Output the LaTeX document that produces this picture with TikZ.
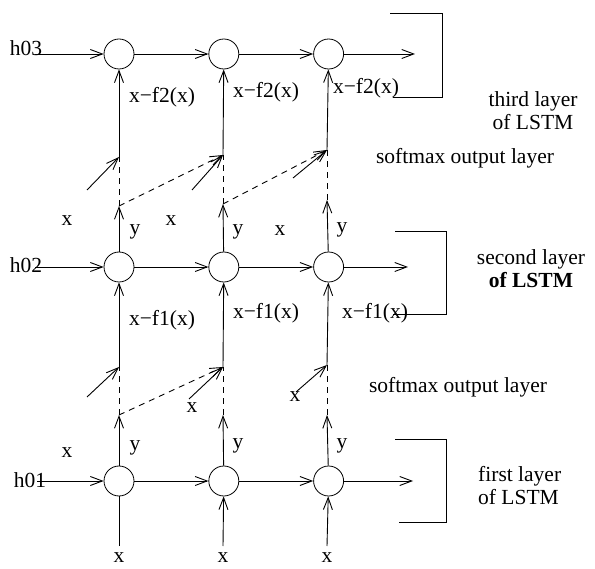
\documentclass[tikz,border=0pt]{standalone}
\usepackage{fontspec}
\setmainfont{Liberation Serif}
\usetikzlibrary{arrows.meta, positioning}

\begin{document}
\begin{tikzpicture}[
    x=1pt, y=-1pt,
    node distance=74pt,
    cell/.style={circle, draw, line width=0.8pt,
                 minimum size=30pt, inner sep=0pt},
    lbl/.style={font=\fontsize{21.5}{23}\selectfont, inner sep=0pt},
    ln/.style={line width=0.9pt},
    arr/.style={ln, -{Straight Barb[length=12pt, width=9pt]}},
    dsh/.style={ln, dash pattern=on 6pt off 5pt},
    darr/.style={dsh, -{Straight Barb[length=12pt, width=9pt]}}
  ]
  \useasboundingbox (0,0) rectangle (595,569);

  % cells of the three layers
  \node[cell] (c11) at (119,481) {};
  \node[cell, right=of c11] (c12) {};
  \node[cell, right=of c12] (c13) {};
  \node[cell] (c21) at (119,267) {};
  \node[cell, right=of c21] (c22) {};
  \node[cell, right=of c22] (c23) {};
  \node[cell] (c31) at (119,54) {};
  \node[cell, right=of c31] (c32) {};
  \node[cell, right=of c32] (c33) {};

  % hidden state inputs
  \node[lbl] (h1) at (30,480) {h01};
  \node[lbl] (h2) at (26,265) {h02};
  \node[lbl] (h3) at (26,48) {h03};
  \coordinate (h1s) at (37,481);
  \coordinate (h2s) at (35,267);
  \coordinate (h3s) at (35,54);
  \coordinate (o1) at (413,481);
  \coordinate (o2) at (408,267);
  \coordinate (o3) at (415,54);

  \draw[arr] (h1s) -- (c11);
  \draw[arr] (c11) -- (c12);
  \draw[arr] (c12) -- (c13);
  \draw[arr] (c13) -- (o1);
  \draw[arr] (h2s) -- (c21);
  \draw[arr] (c21) -- (c22);
  \draw[arr] (c22) -- (c23);
  \draw[arr] (c23) -- (o2);
  \draw[arr] (h3s) -- (c31);
  \draw[arr] (c31) -- (c32);
  \draw[arr] (c32) -- (c33);
  \draw[arr] (c33) -- (o3);

  % inputs at the bottom
  \node[lbl] (x1) at (119,558) {x};
  \node[lbl] (x2) at (223,558) {x};
  \node[lbl] (x3) at (327,558) {x};
  \coordinate (i1) at (119,546);
  \coordinate (i2) at (223,546);
  \coordinate (i3) at (327,546);
  \draw[ln]  (i1) -- (c11);
  \draw[arr] (i2) -- (c12);
  \draw[arr] (i3) -- (c13);

  % first to second layer
  \coordinate (t11) at (119,415);
  \coordinate (t12) at (223,415);
  \coordinate (t13) at (327,415);
  \coordinate (j21) at (119,367);
  \coordinate (j22) at (223,367);
  \coordinate (j23) at (327,365);
  \coordinate (a21) at (87,397);
  \coordinate (a22) at (189,399);
  \coordinate (a23) at (296,392);

  \draw[arr] (c11) -- (t11);
  \draw[arr] (c12) -- (t12);
  \draw[arr] (c13) -- (t13);
  \draw[dsh] (t11) -- (j21);
  \draw[dsh] (t12) -- (j22);
  \draw[dsh] (t13) -- (j23);
  \draw[darr] (t11) -- (j22);
  \draw[arr] (a21) -- (j21);
  \draw[arr] (a22) -- (j22);
  \draw[arr] (a23) -- (j23);
  \draw[arr] (j21) -- (c21);
  \draw[arr] (j22) -- (c22);
  \draw[arr] (j23) -- (c23);

  \node[lbl] at (67,453) {x};
  \node[lbl] at (192,408) {x};
  \node[lbl] at (295,397) {x};
  \node[lbl] at (135,448) {y};
  \node[lbl] at (238,446) {y};
  \node[lbl] at (342,446) {y};
  \node[lbl] at (162,320) {x−f1(x)};
  \node[lbl] at (266,313) {x−f1(x)};
  \node[lbl] at (375,313) {x−f1(x)};

  % second to third layer
  \coordinate (t21) at (119,206);
  \coordinate (t22) at (223,204);
  \coordinate (t23) at (327,200);
  \coordinate (j31) at (119,157);
  \coordinate (j32) at (223,155);
  \coordinate (j33) at (327,150);
  \coordinate (a31) at (87,190);
  \coordinate (a32) at (192,190);
  \coordinate (a33) at (293,178);

  \draw[arr] (c21) -- (t21);
  \draw[arr] (c22) -- (t22);
  \draw[arr] (c23) -- (t23);
  \draw[dsh] (t21) -- (j31);
  \draw[dsh] (t22) -- (j32);
  \draw[dsh] (t23) -- (j33);
  \draw[darr] (t21) -- (j32);
  \draw[darr] (t22) -- (j33);
  \draw[arr] (a31) -- (j31);
  \draw[arr] (a32) -- (j32);
  \draw[arr] (a33) -- (j33);
  \draw[arr] (j31) -- (c31);
  \draw[arr] (j32) -- (c32);
  \draw[arr] (j33) -- (c33);

  \node[lbl] at (67,221) {x};
  \node[lbl] at (171,221) {x};
  \node[lbl] at (280,231) {x};
  \node[lbl] at (135,232) {y};
  \node[lbl] at (238,232) {y};
  \node[lbl] at (342,230) {y};
  \node[lbl] at (162,97) {x−f2(x)};
  \node[lbl] at (266,92) {x−f2(x)};
  \node[lbl] at (366,88) {x−f2(x)};

  % layer brackets
  \draw[ln] (390,13) -- (442,13) -- (442,97) -- (393,97);
  \draw[ln] (395,231) -- (446,231) -- (446,314) -- (393,314);
  \draw[ln] (395,439) -- (446,439) -- (446,522) -- (399,522);

  \node[lbl, align=center] at (533,111) {third layer\\of LSTM};
  \node[lbl] at (465,158) {softmax output layer};
  \node[lbl, align=center] at (531,269) {second layer\\\textbf{of LSTM}};
  \node[lbl] at (458,387) {softmax output layer};
  \node[lbl, align=left, anchor=west] at (478,486) {first layer\\of LSTM};
\end{tikzpicture}
\end{document}
